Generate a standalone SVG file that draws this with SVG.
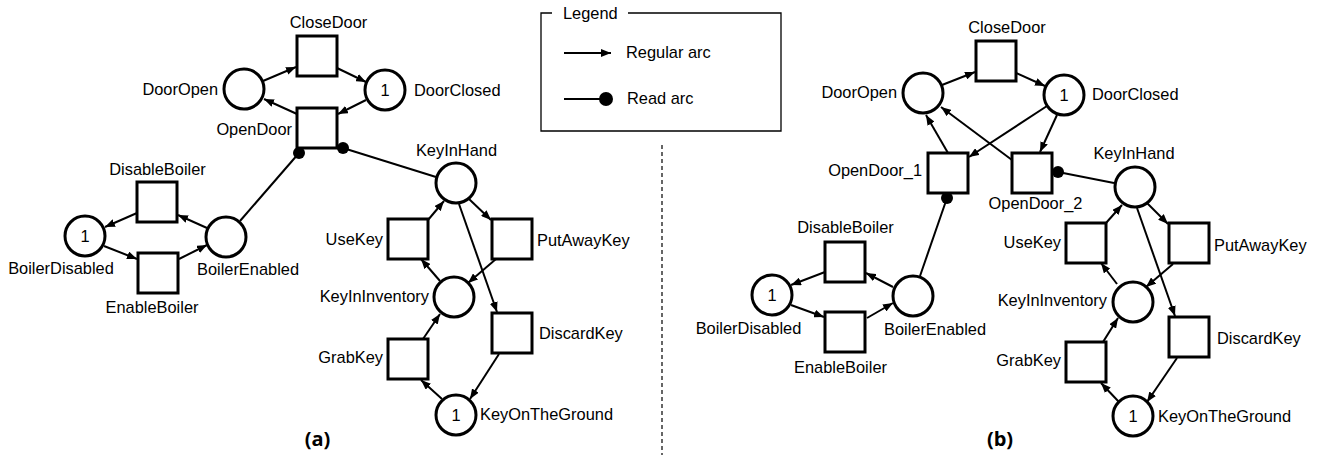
<svg xmlns="http://www.w3.org/2000/svg" width="1319" height="455" viewBox="0 0 1319 455">
<defs>
<style>
.pl{fill:#fff;stroke:#000;stroke-width:3}
.tr{fill:#fff;stroke:#000;stroke-width:3}
.arc{fill:none;stroke:#000;stroke-width:2;marker-end:url(#ah)}
.rd{fill:none;stroke:#000;stroke-width:2}
.dot{fill:#000}
text{font-family:"Liberation Sans",Arial,sans-serif;font-size:16.4px;fill:#000}
.m{text-anchor:middle}
.e{text-anchor:end}
.cap{font-family:"Open Sans","Liberation Sans",sans-serif;font-weight:700;font-size:20px;text-anchor:middle}
</style>
<marker id="ah" markerUnits="userSpaceOnUse" markerWidth="10" markerHeight="8" refX="10" refY="4" orient="auto"><path d="M0,0 L10,4 L0,8 z" fill="#000"/></marker>
</defs>
<rect width="1319" height="455" fill="#fff"/>

<!-- Legend -->
<g id="legend">
<path d="M552,13 H541 V131 H781 V13 H628" fill="none" stroke="#000" stroke-width="1.3"/>
<text x="563" y="18.5">Legend</text>
<line x1="564" y1="53" x2="611" y2="53" class="arc"/>
<text x="626" y="57.5">Regular arc</text>
<line x1="564" y1="99" x2="604" y2="99" class="rd"/>
<circle cx="606" cy="99" r="7" class="dot"/>
<text x="627" y="103.5">Read arc</text>
</g>

<line id="divider" x1="662" y1="145" x2="662" y2="455" stroke="#000" stroke-width="1.2" stroke-dasharray="4,3"/>

<!-- (a) nodes -->
<g id="a_DoorOpen"><circle cx="244" cy="89" r="20" class="pl"/><text x="218" y="94.5" class="e">DoorOpen</text></g>
<g id="a_DoorClosed"><circle cx="385" cy="90" r="20" class="pl"/><text x="385" y="96" class="m">1</text><text x="414" y="96">DoorClosed</text></g>
<g id="a_CloseDoor"><rect x="297" y="36" width="40" height="40" class="tr"/><text x="328.5" y="27.5" class="m">CloseDoor</text></g>
<g id="a_OpenDoor"><rect x="297" y="108" width="40" height="40" class="tr"/><text x="292" y="134.5" class="e">OpenDoor</text></g>
<g id="a_KeyInHand"><circle cx="456" cy="183" r="20" class="pl"/><text x="456.5" y="156" class="m">KeyInHand</text></g>
<g id="a_DisableBoiler"><rect x="137" y="182" width="40" height="40" class="tr"/><text x="157.5" y="174.5" class="m">DisableBoiler</text></g>
<g id="a_BoilerDisabled"><circle cx="85" cy="236" r="20" class="pl"/><text x="85" y="242" class="m">1</text><text x="61" y="273.5" class="m">BoilerDisabled</text></g>
<g id="a_EnableBoiler"><rect x="138" y="253" width="40" height="40" class="tr"/><text x="152" y="312.5" class="m">EnableBoiler</text></g>
<g id="a_BoilerEnabled"><circle cx="226" cy="237" r="20" class="pl"/><text x="248" y="275" class="m">BoilerEnabled</text></g>
<g id="a_UseKey"><rect x="388" y="219" width="40" height="40" class="tr"/><text x="383" y="244.5" class="e">UseKey</text></g>
<g id="a_PutAwayKey"><rect x="492" y="219" width="40" height="40" class="tr"/><text x="537" y="246">PutAwayKey</text></g>
<g id="a_KeyInInventory"><circle cx="454" cy="297" r="20" class="pl"/><text x="429" y="302" class="e">KeyInInventory</text></g>
<g id="a_DiscardKey"><rect x="492" y="313" width="40" height="40" class="tr"/><text x="539" y="339">DiscardKey</text></g>
<g id="a_GrabKey"><rect x="388" y="339" width="40" height="40" class="tr"/><text x="383" y="362.5" class="e">GrabKey</text></g>
<g id="a_KeyOnTheGround"><circle cx="456" cy="415" r="20" class="pl"/><text x="456" y="421" class="m">1</text><text x="480" y="420">KeyOnTheGround</text></g>
<text x="317.5" y="446" class="cap">(a)</text>

<!-- (b) nodes -->
<g id="b_DoorOpen"><circle cx="923" cy="93" r="20" class="pl"/><text x="897" y="97.5" class="e">DoorOpen</text></g>
<g id="b_DoorClosed"><circle cx="1064" cy="95" r="20" class="pl"/><text x="1064" y="101" class="m">1</text><text x="1092" y="100">DoorClosed</text></g>
<g id="b_CloseDoor"><rect x="976" y="41" width="40" height="40" class="tr"/><text x="1007" y="32.5" class="m">CloseDoor</text></g>
<g id="b_OpenDoor_1"><rect x="928" y="153" width="40" height="40" class="tr"/><text x="922" y="175.5" class="e">OpenDoor_1</text></g>
<g id="b_OpenDoor_2"><rect x="1012" y="153" width="40" height="40" class="tr"/><text x="1035.5" y="208.5" class="m">OpenDoor_2</text></g>
<g id="b_KeyInHand"><circle cx="1135" cy="187" r="20" class="pl"/><text x="1134" y="158.5" class="m">KeyInHand</text></g>
<g id="b_DisableBoiler"><rect x="825" y="242" width="40" height="40" class="tr"/><text x="845.5" y="232.5" class="m">DisableBoiler</text></g>
<g id="b_BoilerDisabled"><circle cx="772" cy="295" r="20" class="pl"/><text x="772" y="301" class="m">1</text><text x="748.5" y="333.5" class="m">BoilerDisabled</text></g>
<g id="b_EnableBoiler"><rect x="825" y="312" width="40" height="40" class="tr"/><text x="840.5" y="372.5" class="m">EnableBoiler</text></g>
<g id="b_BoilerEnabled"><circle cx="913" cy="296" r="20" class="pl"/><text x="935" y="334.5" class="m">BoilerEnabled</text></g>
<g id="b_UseKey"><rect x="1066" y="223" width="40" height="40" class="tr"/><text x="1061" y="247.5" class="e">UseKey</text></g>
<g id="b_PutAwayKey"><rect x="1169" y="223" width="40" height="40" class="tr"/><text x="1214" y="251">PutAwayKey</text></g>
<g id="b_KeyInInventory"><circle cx="1133" cy="302" r="20" class="pl"/><text x="1107" y="305.5" class="e">KeyInInventory</text></g>
<g id="b_DiscardKey"><rect x="1169" y="317" width="40" height="40" class="tr"/><text x="1217" y="344">DiscardKey</text></g>
<g id="b_GrabKey"><rect x="1066" y="342" width="40" height="40" class="tr"/><text x="1061" y="365.5" class="e">GrabKey</text></g>
<g id="b_KeyOnTheGround"><circle cx="1133" cy="416" r="20" class="pl"/><text x="1133" y="422" class="m">1</text><text x="1158" y="422">KeyOnTheGround</text></g>
<text x="1000" y="446" class="cap">(b)</text>

<!-- connectors -->
<g id="connectors">
<line x1="263" y1="81" x2="296" y2="67" class="arc"/>
<line x1="337" y1="68" x2="366" y2="82" class="arc"/>
<line x1="366" y1="100" x2="338" y2="114" class="arc"/>
<line x1="297" y1="114" x2="264" y2="99" class="arc"/>
<line x1="299" y1="153" x2="240" y2="221" class="rd"/><circle cx="299" cy="153" r="6" class="dot"/>
<line x1="343" y1="148" x2="436" y2="177" class="rd"/><circle cx="343" cy="148" r="6" class="dot"/>
<line x1="207" y1="228" x2="178" y2="215" class="arc"/>
<line x1="137" y1="213" x2="105" y2="227" class="arc"/>
<line x1="104" y1="246" x2="137" y2="259" class="arc"/>
<line x1="179" y1="259" x2="207" y2="245" class="arc"/>
<line x1="428" y1="220" x2="444" y2="201" class="arc"/>
<line x1="469" y1="199" x2="491" y2="220" class="arc"/>
<line x1="496" y1="259" x2="468" y2="283" class="arc"/>
<line x1="440" y1="281" x2="421" y2="259" class="arc"/>
<line x1="459" y1="204" x2="497" y2="312" class="arc"/>
<line x1="499" y1="354" x2="470" y2="399" class="arc"/>
<line x1="442" y1="399" x2="421" y2="380" class="arc"/>
<line x1="423" y1="339" x2="440" y2="314" class="arc"/>

<line x1="942" y1="85" x2="975" y2="72" class="arc"/>
<line x1="1016" y1="73" x2="1045" y2="86" class="arc"/>
<line x1="1047" y1="106" x2="969" y2="157" class="arc"/>
<line x1="1057" y1="115" x2="1040" y2="152" class="arc"/>
<line x1="948" y1="153" x2="926" y2="115" class="arc"/>
<line x1="1012" y1="160" x2="941" y2="107" class="arc"/>
<line x1="1058" y1="172" x2="1114" y2="183" class="rd"/><circle cx="1058" cy="172" r="6" class="dot"/>
<line x1="947" y1="198" x2="920" y2="276" class="rd"/><circle cx="947" cy="198" r="6" class="dot"/>
<line x1="893" y1="287" x2="866" y2="273" class="arc"/>
<line x1="825" y1="272" x2="791" y2="285" class="arc"/>
<line x1="791" y1="305" x2="824" y2="317" class="arc"/>
<line x1="867" y1="318" x2="893" y2="303" class="arc"/>
<line x1="1106" y1="223" x2="1122" y2="205" class="arc"/>
<line x1="1147" y1="203" x2="1168" y2="224" class="arc"/>
<line x1="1173" y1="264" x2="1146" y2="287" class="arc"/>
<line x1="1117" y1="284" x2="1101" y2="263" class="arc"/>
<line x1="1137" y1="208" x2="1175" y2="316" class="arc"/>
<line x1="1177" y1="358" x2="1147" y2="402" class="arc"/>
<line x1="1119" y1="402" x2="1101" y2="383" class="arc"/>
<line x1="1103" y1="342" x2="1118" y2="318" class="arc"/>
</g>
</svg>
